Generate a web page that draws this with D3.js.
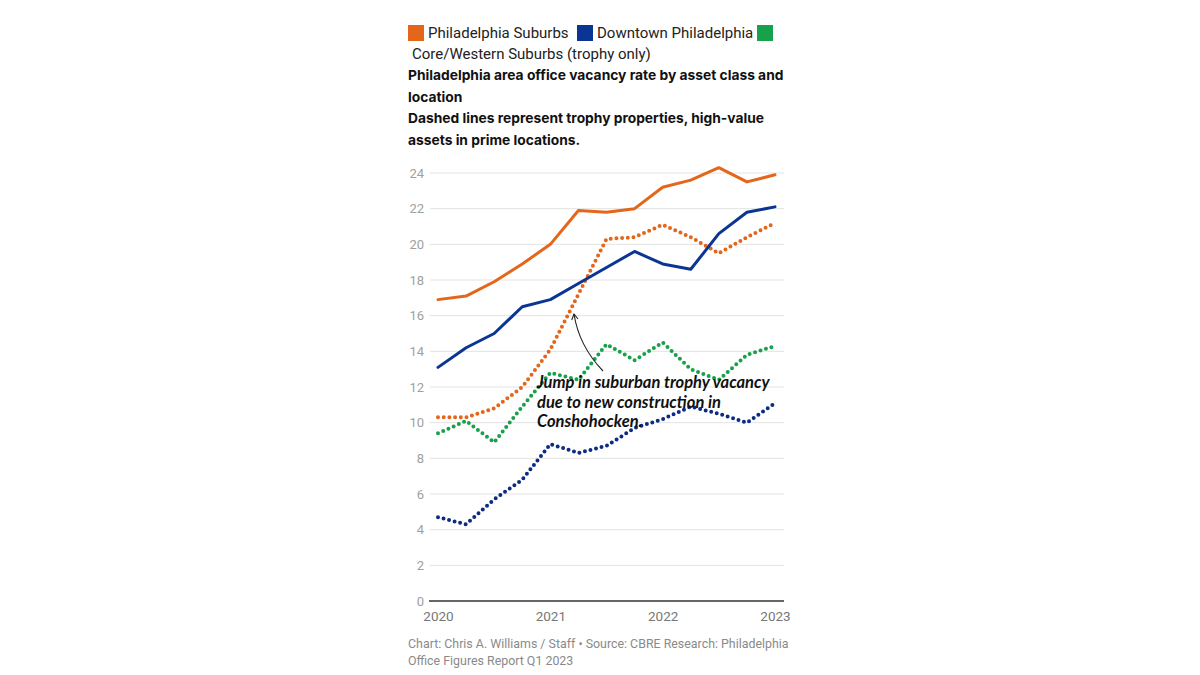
<!DOCTYPE html>
<html>
<head>
<meta charset="utf-8">
<script src="https://cdn.jsdelivr.net/npm/d3@7"></script>
<style>
  html, body { margin: 0; padding: 0; background: #fff; }
  svg { display: block; }
</style>
</head>
<body>
<svg id="chart" width="1200" height="675"></svg>
<script>
// ---- Data ----
const quarters = ["2020 Q1","2020 Q2","2020 Q3","2020 Q4","2021 Q1","2021 Q2","2021 Q3","2021 Q4","2022 Q1","2022 Q2","2022 Q3","2022 Q4","2023 Q1"];
const suburbs =          [16.9, 17.1, 17.9, 18.9, 20.0, 21.9, 21.8, 22.0, 23.2, 23.6, 24.3, 23.5, 23.9];
const downtown =         [13.1, 14.2, 15.0, 16.5, 16.9, 17.8, 18.7, 19.6, 18.9, 18.6, 20.6, 21.8, 22.1];
const suburbsTrophy =    [10.3, 10.3, 10.8, 12.0, 14.1, 17.2, 20.3, 20.4, 21.1, 20.4, 19.5, 20.4, 21.2];
const downtownTrophy =   [4.7, 4.3, 5.7, 6.8, 8.8, 8.3, 8.7, 9.7, 10.2, 10.9, 10.5, 10.0, 11.1];
const coreWesternTrophy = [9.4, 10.1, 8.9, 10.9, 12.8, 12.4, 14.4, 13.5, 14.5, 13.0, 12.4, 13.8, 14.3];
const xTickIndex = [0, 4, 8, 12];
const xTickLabels = ["2020", "2021", "2022", "2023"];
const yTicks = [0, 2, 4, 6, 8, 10, 12, 14, 16, 18, 20, 22, 24];
const legendItems = ["Philadelphia Suburbs", "Downtown Philadelphia", "Core/Western Suburbs (trophy only)"];
const titleLines = ["Philadelphia area office vacancy rate by asset class and", "location", "Dashed lines represent trophy properties, high-value", "assets in prime locations."];
const annotationLines = ["Jump in suburban trophy vacancy", "due to new construction in", "Conshohocken."];
const footerLines = ["Chart: Chris A. Williams / Staff \u2022 Source: CBRE Research: Philadelphia", "Office Figures Report Q1 2023"];

// ---- Styles ----
const ORANGE = "#e3661b", BLUE = "#0b3592", GREEN = "#18a04a", NAVY = "#0b2b86";
const svg = d3.select("#chart");
const FONT = "Roboto, 'Liberation Sans', sans-serif";

const x = d3.scaleLinear().domain([0, 12]).range([438, 775]);
const y = d3.scaleLinear().domain([0, 24]).range([601, 173]);

// Legend
const leg = svg.append("g").attr("font-family", FONT).attr("font-size", 15).attr("fill", "#222");
const legColors = [ORANGE, BLUE, GREEN];
leg.append("rect").attr("x", 408).attr("y", 25).attr("width", 16).attr("height", 16).attr("fill", legColors[0]);
leg.append("text").attr("x", 428).attr("y", 38).text(legendItems[0]);
leg.append("rect").attr("x", 577).attr("y", 25).attr("width", 16).attr("height", 16).attr("fill", legColors[1]);
leg.append("text").attr("x", 597).attr("y", 38).text(legendItems[1]);
leg.append("rect").attr("x", 757).attr("y", 25).attr("width", 16).attr("height", 16).attr("fill", legColors[2]);
leg.append("text").attr("x", 412).attr("y", 59).text(legendItems[2]);

// Title
const title = svg.append("g").attr("font-family", "Inter, 'Open Sans', sans-serif").attr("font-weight", 700).attr("font-size", 13.8).attr("fill", "#111");
titleLines.forEach((t, i) => title.append("text").attr("x", 408).attr("y", 80 + i * 21.5).text(t));

// Gridlines
const grid = svg.append("g");
grid.selectAll("line").data(yTicks.filter(d => d !== 0)).join("line")
  .attr("x1", 430).attr("x2", 784)
  .attr("y1", d => y(d)).attr("y2", d => y(d))
  .attr("stroke", "#e3e3e3").attr("stroke-width", 1);

// Y axis labels
const yAxis = svg.append("g").attr("transform", "translate(424,0)")
  .call(d3.axisLeft(y).tickValues(yTicks).tickSize(0).tickPadding(0));
yAxis.select(".domain").remove();
yAxis.selectAll("text").attr("font-family", FONT).attr("font-size", 13).attr("fill", "#a0a0a0");

// X axis
const xAxis = svg.append("g").attr("transform", `translate(0,${y(0)})`)
  .call(d3.axisBottom(x).tickValues(xTickIndex).tickFormat((d, i) => xTickLabels[i]).tickSize(0).tickPadding(10));
xAxis.select(".domain").remove();
xAxis.selectAll("text").attr("font-family", FONT).attr("font-size", 13.5).attr("fill", "#777");
svg.append("line").attr("x1", 429).attr("x2", 784).attr("y1", y(0)).attr("y2", y(0))
  .attr("stroke", "#333").attr("stroke-width", 1.5);

// Lines
const solidLine = d3.line().x((d, i) => x(i)).y(d => y(d));
const dotLine = d3.line().x((d, i) => x(i)).y(d => y(d));

function drawDotted(data, color) {
  svg.append("path").datum(data).attr("d", dotLine)
    .attr("fill", "none").attr("stroke", color).attr("stroke-width", 4)
    .attr("stroke-linecap", "round").attr("stroke-linejoin", "round").attr("stroke-dasharray", "0 5.7");
}
function drawSolid(data, color) {
  svg.append("path").datum(data).attr("d", solidLine)
    .attr("fill", "none").attr("stroke", color).attr("stroke-width", 3)
    .attr("stroke-linejoin", "round").attr("stroke-linecap", "round");
}
drawDotted(downtownTrophy, NAVY);
drawDotted(coreWesternTrophy, GREEN);
drawDotted(suburbsTrophy, ORANGE);
drawSolid(downtown, BLUE);
drawSolid(suburbs, ORANGE);

// Annotation arrow
svg.append("defs").append("marker").attr("id", "arr").attr("viewBox", "0 0 10 10")
  .attr("refX", 8).attr("refY", 5).attr("markerWidth", 8).attr("markerHeight", 8)
  .attr("orient", "auto-start-reverse").attr("markerUnits", "userSpaceOnUse")
  .append("path").attr("d", "M1,1 L8,5 L1,9").attr("fill", "none").attr("stroke", "#222").attr("stroke-width", 1.3);
svg.append("path").attr("d", "M603,371 Q579,346 574,314")
  .attr("fill", "none").attr("stroke", "#222").attr("stroke-width", 1.1)
  .attr("marker-end", "url(#arr)");

// Annotation text
const ann = svg.append("g").attr("font-family", "Lato, sans-serif").attr("font-weight", 700)
  .attr("font-style", "italic").attr("font-size", 16.5).attr("fill", "#111");
annotationLines.forEach((t, i) => ann.append("text").attr("x", 537).attr("y", 388 + i * 19.5).text(t));

// Footer
const foot = svg.append("g").attr("font-family", FONT).attr("font-size", 12.4).attr("fill", "#8a8a8a");
footerLines.forEach((t, i) => foot.append("text").attr("x", 408).attr("y", 648 + i * 17).text(t));
</script>
</body>
</html>
